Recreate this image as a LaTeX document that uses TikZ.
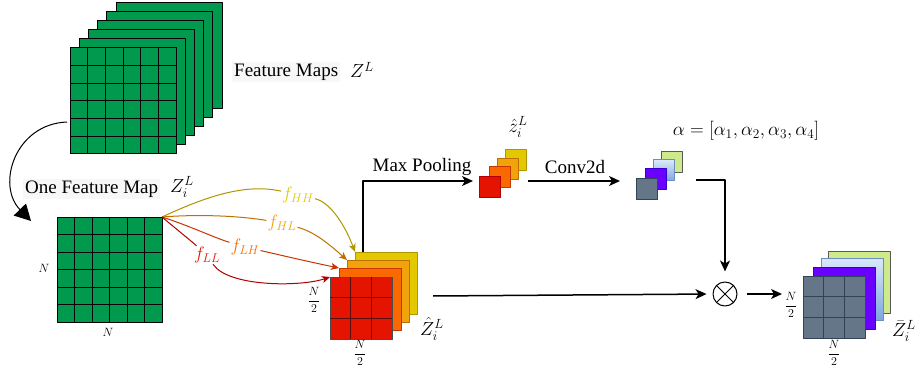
\RequirePackage{fix-cm}
\documentclass[tikz,border=0pt]{standalone}
\usepackage{fontspec}
\setmainfont{Liberation Serif}
\newfontfamily\tnr{Liberation Serif}
\usetikzlibrary{arrows.meta,calc}
\definecolor{fmgreen}{HTML}{00994D}
\definecolor{cred}{HTML}{E51400}
\definecolor{credd}{HTML}{5A1010}
\definecolor{corange}{HTML}{FA6800}
\definecolor{corangeb}{HTML}{C73500}
\definecolor{camber}{HTML}{F0A30A}
\definecolor{camberb}{HTML}{BD7000}
\definecolor{cyellow}{HTML}{E3C800}
\definecolor{cyellowb}{HTML}{B09500}
\definecolor{credb}{HTML}{B20000}
\definecolor{cgray}{HTML}{647687}
\definecolor{cgrayb}{HTML}{314354}
\definecolor{cpurple}{HTML}{6A00FF}
\definecolor{cpurpleb}{HTML}{3700CC}
\definecolor{cbluet}{HTML}{DAE8FC}
\definecolor{cblueb}{HTML}{7EA6E0}
\definecolor{cbluebd}{HTML}{6C8EBF}
\definecolor{clgreen}{HTML}{CDEB8B}
\definecolor{clgreenb}{HTML}{5A5A5A}
\definecolor{txtbg}{HTML}{F7F7F7}
\begin{document}
\begin{tikzpicture}[x=1pt,y=-1pt,line join=round]
\useasboundingbox (0,0) rectangle (915,374);
\tikzset{
  sq/.style={draw, anchor=north west, inner sep=0pt, outer sep=0pt, line width=1pt},
  big/.style={sq, minimum width=106pt, minimum height=106pt, fill=fmgreen, draw=black},
  mid/.style={sq, minimum width=62pt, minimum height=62pt},
  small/.style={sq, minimum width=21pt, minimum height=21pt},
  lbl/.style={font=\tnr\fontsize{19}{22}\selectfont, inner sep=1pt},
  bglbl/.style={lbl, fill=txtbg, inner sep=2pt},
  nlbl/.style={font=\fontsize{12}{14}\selectfont, inner sep=1pt},
  flbl/.style={font=\fontsize{18}{21}\selectfont, inner sep=1pt},
  arr/.style={line width=1.5pt, -{Stealth[length=11pt,width=10pt,inset=3pt]}},
  farr/.style={line width=1pt, -{Stealth[length=8pt,width=7pt,inset=2pt]}},
  gline/.style={line width=1pt}
}
% ---------- top stack of feature maps
\foreach \i in {5,4,3,2,1}{
  \node[big] (fm\i) at ({70+9.2*\i},{48-9*\i}) {};
}
\node[big] (fm0) at (70,48) {};
\foreach \k in {1,...,5}{
  \draw[gline] ($(fm0.north west)+(\k*17.667,0)$) -- ($(fm0.south west)+(\k*17.667,0)$);
  \draw[gline] ($(fm0.north west)+(0,\k*17.667)$) -- ($(fm0.north east)+(0,\k*17.667)$);
}
\node[bglbl, anchor=west] (fmtxt) at (232,72) {Feature Maps};
\node[lbl, anchor=west] (fmz) at (349,70) {$Z^L$};

% ---------- one feature map
\node[big, minimum width=105pt, minimum height=105pt] (ofm) at (57,217) {};
\foreach \k in {1,...,5}{
  \draw[gline] ($(ofm.north west)+(\k*17.5,0)$) -- ($(ofm.south west)+(\k*17.5,0)$);
  \draw[gline] ($(ofm.north west)+(0,\k*17.5)$) -- ($(ofm.north east)+(0,\k*17.5)$);
}
\node[nlbl] (ofmN1) at (44,268) {$N$};
\node[nlbl] (ofmN2) at (108,332) {$N$};
\node[bglbl, anchor=west] (oftxt) at (23,189) {One Feature Map};
\node[lbl, anchor=west] (ofz) at (169,187) {$Z_i^L$};

% curved arrow from stack to one map
\draw[line width=1pt, -{Triangle[length=16pt,width=17pt]}] (67,122) .. controls (15,124) and (-4,185) .. (31,221);

% ---------- Z hat stack
\node[mid, fill=cyellow, draw=cyellowb] (hy) at (355,252) {};
\node[mid, fill=camber, draw=camberb] (ha) at (347,260) {};
\node[mid, fill=corange, draw=corangeb] (ho) at (339,268) {};
\node[mid, fill=cred, draw=black!70] (hr) at (330,277) {};
\foreach \k in {1,2}{
  \draw[gline, credd] ($(hr.north west)+(\k*20.667,0)$) -- ($(hr.south west)+(\k*20.667,0)$);
  \draw[gline, credd] ($(hr.north west)+(0,\k*20.667)$) -- ($(hr.north east)+(0,\k*20.667)$);
}
\node[nlbl] (hrN1) at (314,300) {$\displaystyle\frac{N}{2}$};
\node[nlbl] (hrN2) at (360,353) {$\displaystyle\frac{N}{2}$};
\node[lbl, anchor=west] (hz) at (419,329) {$\hat{Z}_i^L$};

% ---------- f labels and curves
\node[flbl, text=cyellow] (lHH) at (298,195) {$f_{HH}$};
\node[flbl, text=camber] (lHL) at (282,223) {$f_{HL}$};
\node[flbl, text=corange] (lLH) at (245,247) {$f_{LH}$};
\node[flbl, text=cred] (lLL) at (207,255) {$f_{LL}$};

\draw[line width=1pt, cyellowb] (ofm.north east) .. controls (205,197) and (245,183) .. (lHH);
\draw[farr, cyellowb] (lHH) .. controls (330,202) and (345,225) .. (hy.north west);
\draw[line width=1pt, camberb] (ofm.north east) .. controls (200,214) and (240,216) .. (lHL);
\draw[farr, camberb] (lHL) .. controls (315,232) and (330,245) .. (ha.north west);
\draw[line width=1pt, corangeb] (ofm.north east) .. controls (190,226) and (215,238) .. (lLH);
\draw[farr, corangeb] (lLH) .. controls (280,255) and (310,262) .. (ho.north west);
\draw[line width=1pt, credb] (ofm.north east) .. controls (175,228) and (190,240) .. (lLL);
\draw[farr, credb] (lLL) .. controls (228,287) and (300,287) .. (hr.north west);

% ---------- small z hat stack
\node[small, fill=cyellow, draw=cyellowb] (sy) at (505,150) {};
\node[small, fill=camber, draw=camberb] (sa) at (497,159) {};
\node[small, fill=corange, draw=corangeb] (so) at (489,167) {};
\node[small, fill=cred, draw=credb] (sr) at (479,177) {};
\node[lbl] (sz) at (518,127) {$\hat{z}_i^L$};

% max pooling arrow
\coordinate (mpS) at (363,252);
\coordinate (mpE) at (473,181);
\draw[arr] (mpS) |- (mpE);
\node[lbl] (mptxt) at (422,167) {Max Pooling};

% ---------- alpha stack
\node[small, fill=clgreen, draw=clgreenb] (ag) at (661,152) {};
\node[small, top color=cbluet, bottom color=cblueb, draw=cbluebd] (ab) at (653,160) {};
\node[small, fill=cpurple, draw=cpurpleb] (ap) at (645,169) {};
\node[small, fill=cgray, draw=cgrayb] (ay) at (636,179) {};
\node[lbl] (atxt) at (746,131) {$\alpha=[\alpha_1,\alpha_2,\alpha_3,\alpha_4]$};

% conv2d arrow
\coordinate (cvS) at (528,181);
\coordinate (cvE) at (620,181);
\draw[arr] (cvS) -- (cvE);
\node[lbl] (cvtxt) at (575,167) {Conv2d};

% ---------- otimes
\node[draw, circle, line width=1pt, minimum size=24pt, inner sep=0pt] (ot) at (725,294) {};
\draw[line width=1pt] (ot.north west) -- (ot.south east);
\draw[line width=1pt] (ot.north east) -- (ot.south west);

\coordinate (alS) at (696,180);
\draw[arr, shorten >=10pt] (alS) -| (ot.north);
\coordinate (zS) at (433,296);
\draw[arr, shorten >=6pt] (zS) -- (ot.west);
\coordinate (oE) at (782,294);
\draw[arr, shorten <=9pt] (ot.east) -- (oE);

% ---------- output stack
\node[mid, fill=clgreen, draw=clgreenb] (og) at (828,251) {};
\node[mid, top color=cbluet, bottom color=cblueb, draw=cbluebd] (ob) at (821,258) {};
\node[mid, fill=cpurple, draw=cpurpleb] (op) at (813,267) {};
\node[mid, fill=cgray, draw=cgrayb] (oy) at (803,276) {};
\foreach \k in {1,2}{
  \draw[gline, cgrayb] ($(oy.north west)+(\k*20.667,0)$) -- ($(oy.south west)+(\k*20.667,0)$);
  \draw[gline, cgrayb] ($(oy.north west)+(0,\k*20.667)$) -- ($(oy.north east)+(0,\k*20.667)$);
}
\node[nlbl] (oyN1) at (791,305) {$\displaystyle\frac{N}{2}$};
\node[nlbl] (oyN2) at (834,353) {$\displaystyle\frac{N}{2}$};
\node[lbl, anchor=west] (ozb) at (891,331) {$\bar{Z}_i^L$};
\end{tikzpicture}
\end{document}
